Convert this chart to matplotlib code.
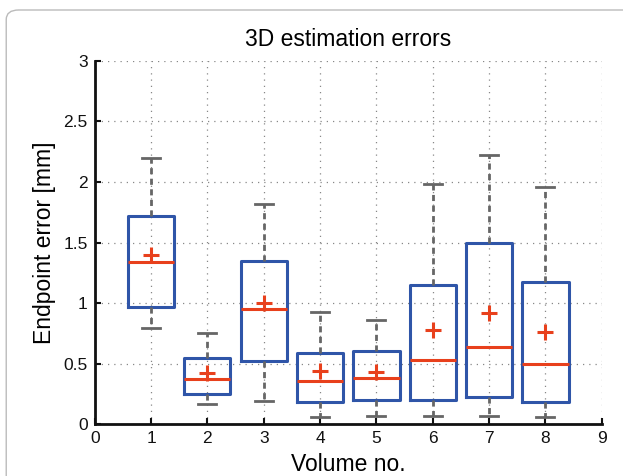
import matplotlib.pyplot as plt
from matplotlib.patches import FancyBboxPatch

plt.rcParams['font.family'] = ['Liberation Sans', 'DejaVu Sans']

volumes = [1, 2, 3, 4, 5, 6, 7, 8]
whis_lo = [0.79, 0.17, 0.19, 0.06, 0.07, 0.07, 0.07, 0.06]
q1 = [0.97, 0.25, 0.52, 0.18, 0.20, 0.20, 0.22, 0.18]
medians = [1.34, 0.37, 0.95, 0.36, 0.38, 0.53, 0.64, 0.50]
q3 = [1.72, 0.55, 1.35, 0.59, 0.60, 1.15, 1.50, 1.17]
whis_hi = [2.20, 0.75, 1.82, 0.93, 0.86, 1.98, 2.22, 1.96]
means = [1.40, 0.42, 1.00, 0.44, 0.43, 0.78, 0.92, 0.76]

blue = '#2f55a8'
red = '#e8401c'
gray = '#666666'

fig = plt.figure(figsize=(6.23, 4.76), dpi=100)
# rounded page frame, only top-left corner visible
frame = FancyBboxPatch((0.01, -0.5), 1.5, 1.479, boxstyle='round,pad=0,rounding_size=0.02',
                       transform=fig.transFigure, fill=False, edgecolor='#bbbbbb', linewidth=1)
fig.patches.append(frame)

ax = fig.add_axes([0.152, 0.109, 0.814, 0.763])

stats = []
for i in range(len(volumes)):
    stats.append(dict(whislo=whis_lo[i], q1=q1[i], med=medians[i], q3=q3[i],
                      whishi=whis_hi[i], mean=means[i], fliers=[]))

ax.bxp(stats, positions=volumes, widths=0.82, showmeans=True, showfliers=False,
       boxprops=dict(color=blue, linewidth=2.2),
       medianprops=dict(color=red, linewidth=2.2),
       whiskerprops=dict(color=gray, linewidth=2, linestyle=(0, (2.2, 1.6))),
       capprops=dict(color=gray, linewidth=2),
       capwidths=0.32,
       meanprops=dict(marker='+', markeredgecolor=red, markersize=11, markeredgewidth=2.2),
       zorder=3)

ax.set_xlim(0, 9)
ax.set_ylim(0, 3)
ax.set_xticks(range(10))
ax.set_xticklabels([str(i) for i in range(10)])
yt = [0, 0.5, 1, 1.5, 2, 2.5, 3]
ax.set_yticks(yt)
ax.set_yticklabels(['0', '0.5', '1', '1.5', '2', '2.5', '3'])
ax.grid(True, linestyle=(0, (1, 4)), color='#888888', linewidth=0.9)
ax.set_axisbelow(True)

for s in ['top', 'right']:
    ax.spines[s].set_visible(False)
for s in ['left', 'bottom']:
    ax.spines[s].set_linewidth(2)
    ax.spines[s].set_color('#111111')
ax.tick_params(direction='in', length=4, width=1.5, labelsize=12.5, colors='#111111', pad=5)

ax.set_title('3D estimation errors', fontsize=16.5, pad=11)
ax.set_xlabel('Volume no.', fontsize=16.5, labelpad=5)
ax.set_ylabel('Endpoint error [mm]', fontsize=16.5, labelpad=5)

fig.savefig('out.png', dpi=100)
